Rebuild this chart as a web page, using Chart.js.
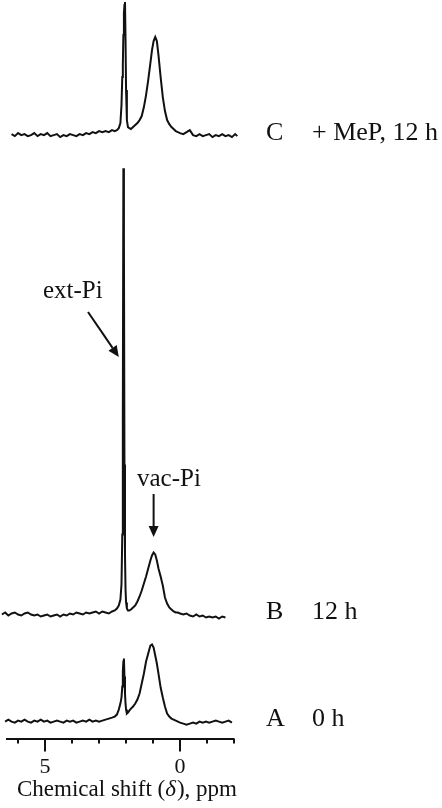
<!DOCTYPE html>
<html>
<head>
<meta charset="utf-8">
<script src="https://cdn.jsdelivr.net/npm/chart.js@4.4.1/dist/chart.umd.min.js"></script>
<style>
  html, body { margin: 0; padding: 0; background: #fff; }
  #wrap { width: 442px; height: 808px; position: relative; }
</style>
</head>
<body>
<div id="wrap"><canvas id="nmrChart"></canvas></div>
<script>
// chemical shift grid (ppm), shared by the three spectra
const shifts = [6.6, 6.48, 6.36, 6.24, 6.12, 6.0, 5.88, 5.76, 5.64, 5.52,
  5.4, 5.28, 5.16, 5.04, 4.92, 4.8, 4.68, 4.56, 4.44, 4.32,
  4.2, 4.08, 3.96, 3.84, 3.72, 3.6, 3.48, 3.36, 3.24, 3.12,
  3.0, 2.88, 2.76, 2.64, 2.52, 2.42, 2.34, 2.27, 2.21, 2.17,
  2.14, 2.12, 2.1, 2.08, 2.06, 2.04, 2.02, 2.0, 1.97, 1.93,
  1.88, 1.82, 1.74, 1.66, 1.58, 1.5, 1.42, 1.34, 1.26, 1.18,
  1.1, 1.04, 0.98, 0.92, 0.86, 0.8, 0.72, 0.64, 0.56, 0.48,
  0.4, 0.32, 0.24, 0.16, 0.08, 0.0, -0.12, -0.24, -0.36, -0.48,
  -0.6, -0.72, -0.84, -0.96, -1.08, -1.2, -1.32, -1.44, -1.56, -1.68,
  -1.8, -1.92, -2.04, -2.12];

// A : 0 h
const spectrumA = [null, 0, 2, 0, -1, 1, 0, 2, 0, -1,
  1, 0, 2, 0, 1, -1, 0, 1, 0, -1,
  1, 0, 1, -1, 0, 1, 0, 2, 0, 1,
  0, 1, 2, 3, 4, 5, 7, 12, 18, 24,
  35, 50, 60, 63, 45, 28, 18, 12, 8, 9,
  11, 13, 15, 18, 22, 28, 38, 48, 60, 68,
  76, 77, 74, 66, 58, 48, 34, 24, 15, 8,
  5, 3, 2, 1, 0, -1, -2, -3, -2, -1,
  -2, 0, -1, 0, -1, 0, 1, 0, -1, 0,
  1, -1, null, null];

// B : 12 h
const spectrumB = [0, 2, -1, 1, 2, 0, -1, 1, 2, 0,
  -1, 0, -2, -1, 0, -2, -1, 0, -2, 0,
  -1, 1, 0, 2, 1, 0, 2, 1, 2, 3,
  1, 3, 2, 1, 3, 4, 6, 9, 15, 30,
  80, 200, 446, 380, 150, 60, 25, 12, 6, 4,
  4, 5, 7, 9, 13, 18, 24, 31, 38, 46,
  54, 59, 62, 60, 54, 46, 38, 29, 17, 11,
  7, 5, 3, 2, 2, 1, 0, 1, -1, -2,
  0, -2, -1, -3, -2, -3, -2, -4, -2, -3,
  null, null, null, null];

// C : + MeP, 12 h
const spectrumC = [null, null, null, 1, -1, 2, 0, 1, -1, 0,
  2, -1, 1, 0, 2, -1, 0, 1, -2, 0,
  -1, 1, 0, -1, 1, 0, 2, 1, 3, 2,
  4, 3, 4, 3, 5, 4, 5, 7, 12, 30,
  58, 70, 100, 122, 130, 133, 95, 45, 15, 8,
  7, 6, 8, 10, 12, 15, 19, 28, 40, 55,
  72, 85, 94, 98, 94, 80, 58, 38, 24, 15,
  11, 8, 6, 4, 3, 2, 1, 3, 5, 0,
  -1, 1, -1, 0, 1, -2, 0, -1, 1, -1,
  0, -2, 1, -1];

// vertical stacking of the traces
const offsetA = 17, offsetB = 124, offsetC = 603;

const spectrumNames = ['A', 'B', 'C'];
const spectrumConditions = ['0 h', '12 h', '+ MeP, 12 h'];

// axis
const tickValues = [6, 5, 4, 3, 2, 1, 0, -1, -2];
const tickLabels = ['5', '0'];
const majorTicks = [5, 0];

function toPoints(values, offset) {
  const pts = [];
  values.forEach((v, i) => {
    if (v !== null) pts.push({ x: shifts[i], y: v + offset });
  });
  return pts;
}

const serif = "'Liberation Serif', 'Times New Roman', serif";
const ink = '#111';

const decorations = {
  id: 'decorations',
  afterDraw(chart) {
    const ctx = chart.ctx;
    const xs = chart.scales.x;
    const ys = chart.scales.y;
    const bottom = chart.chartArea.bottom;
    ctx.save();
    ctx.strokeStyle = ink;
    ctx.fillStyle = ink;

    // tick marks, long ones at 5 and 0
    ctx.lineWidth = 2;
    tickValues.forEach(v => {
      const px = Math.round(xs.getPixelForValue(v));
      const len = majorTicks.includes(v) ? 13 : 5;
      ctx.beginPath();
      ctx.moveTo(px, bottom);
      ctx.lineTo(px, bottom + len);
      ctx.stroke();
    });

    // A / B / C labels
    const offsets = [offsetA, offsetB, offsetC];
    ctx.font = '26px ' + serif;
    ctx.textBaseline = 'middle';
    ctx.textAlign = 'left';
    offsets.forEach((off, i) => {
      const py = ys.getPixelForValue(off) - 2;
      ctx.fillText(spectrumNames[i], 266, py);
      ctx.fillText(spectrumConditions[i], 312, py);
    });

    // peak annotations
    ctx.font = '25px ' + serif;
    ctx.textBaseline = 'alphabetic';
    ctx.fillText('ext-Pi', 43, 298);
    ctx.fillText('vac-Pi', 137, 486);

    const extX = xs.getPixelForValue(2.27);
    drawArrow(ctx, 88, 312, extX, 357);
    const vacX = xs.getPixelForValue(0.98);
    drawArrow(ctx, vacX, 494, vacX, 537);

    // axis title with italic delta
    const ty = 796;
    let tx = 17;
    ctx.font = '23px ' + serif;
    ctx.fillText('Chemical shift (', tx, ty);
    tx += ctx.measureText('Chemical shift (').width;
    ctx.font = 'italic 23px ' + serif;
    ctx.fillText('\u03B4', tx, ty);
    tx += ctx.measureText('\u03B4').width + 1;
    ctx.font = '23px ' + serif;
    ctx.fillText('), ppm', tx, ty);

    ctx.restore();
  }
};

function drawArrow(ctx, x1, y1, x2, y2) {
  const ang = Math.atan2(y2 - y1, x2 - x1);
  const head = 11, half = 5;
  const bx = x2 - head * Math.cos(ang);
  const by = y2 - head * Math.sin(ang);
  ctx.lineWidth = 2;
  ctx.beginPath();
  ctx.moveTo(x1, y1);
  ctx.lineTo(bx, by);
  ctx.stroke();
  ctx.beginPath();
  ctx.moveTo(x2, y2);
  ctx.lineTo(bx + half * Math.sin(ang), by - half * Math.cos(ang));
  ctx.lineTo(bx - half * Math.sin(ang), by + half * Math.cos(ang));
  ctx.closePath();
  ctx.fill();
}

const lineStyle = {
  borderColor: ink,
  borderWidth: 2,
  pointRadius: 0,
  tension: 0,
  fill: false,
  clip: false
};

new Chart(document.getElementById('nmrChart'), {
  type: 'line',
  data: {
    datasets: [
      { label: 'A', data: toPoints(spectrumA, offsetA), ...lineStyle },
      { label: 'B', data: toPoints(spectrumB, offsetB), ...lineStyle },
      { label: 'C', data: toPoints(spectrumC, offsetC), ...lineStyle }
    ]
  },
  options: {
    responsive: true,
    maintainAspectRatio: false,
    animation: false,
    layout: { padding: { left: 7, right: 209, top: 0, bottom: 21 } },
    plugins: {
      legend: { display: false },
      tooltip: { enabled: false }
    },
    scales: {
      x: {
        type: 'linear',
        reverse: true,
        min: -1.96,
        max: 6.41,
        afterBuildTicks: scale => {
          scale.ticks = tickValues.map(v => ({ value: v }));
        },
        grid: { display: false },
        border: { display: true, color: ink, width: 2 },
        ticks: {
          autoSkip: false,
          maxRotation: 0,
          padding: 7,
          color: ink,
          font: { family: serif, size: 22 },
          callback: v => tickLabels.includes(String(v)) ? String(v) : ''
        }
      },
      y: {
        display: false,
        min: 0,
        max: 738
      }
    }
  },
  plugins: [decorations]
});
</script>
</body>
</html>
